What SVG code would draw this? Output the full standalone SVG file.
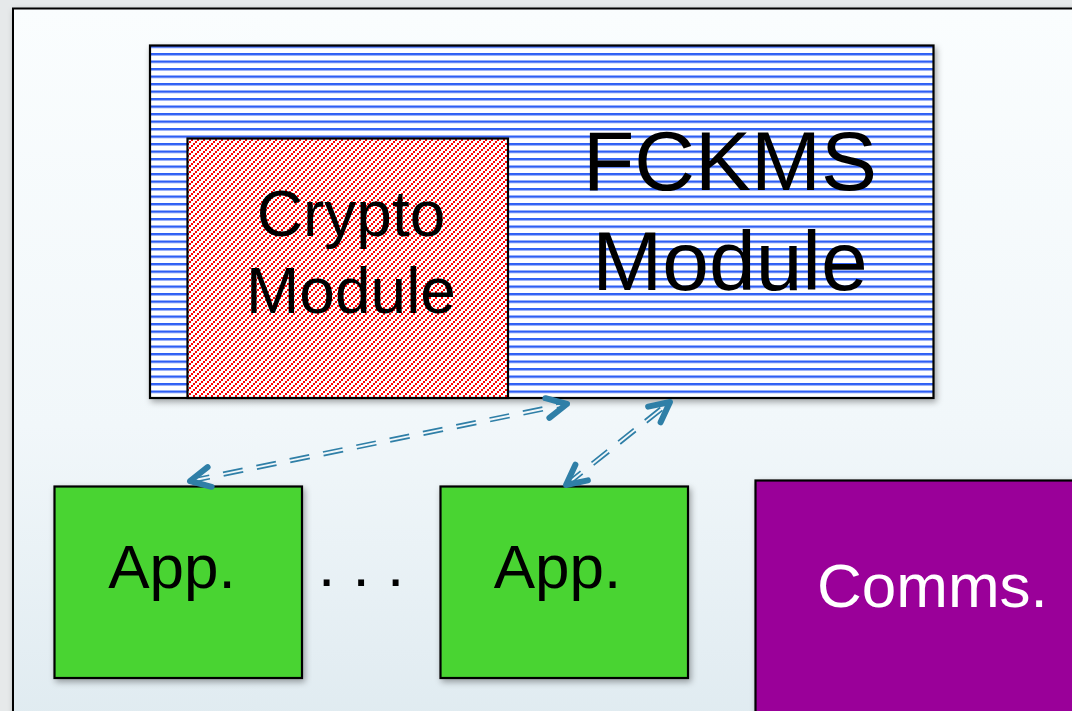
<svg xmlns="http://www.w3.org/2000/svg" width="1072" height="711" viewBox="0 0 1072 711">
  <defs>
    <linearGradient id="bg" x1="0" y1="0" x2="0" y2="1">
      <stop offset="0" stop-color="#fafdfe"/>
      <stop offset="0.55" stop-color="#f1f7fa"/>
      <stop offset="1" stop-color="#dde9ef"/>
    </linearGradient>
    <pattern id="hlines" patternUnits="userSpaceOnUse" x="0" y="53" width="10" height="7.5">
      <rect x="0" y="0" width="10" height="7.5" fill="#ffffff"/>
      <rect x="0" y="0" width="10" height="2.4" fill="#2f5ff4"/>
    </pattern>
    <pattern id="redhatch" patternUnits="userSpaceOnUse" x="187" y="139" width="6" height="6">
      <rect x="0" y="0" width="6" height="6" fill="#ffffff"/>
      <rect x="0" y="4" width="2" height="2" fill="#ff0000"/>
      <rect x="2" y="2" width="2" height="2" fill="#ff0000"/>
      <rect x="4" y="0" width="2" height="2" fill="#ff0000"/>
    </pattern>
    <filter id="shadow" x="-10%" y="-10%" width="130%" height="130%">
      <feDropShadow dx="2" dy="3" stdDeviation="3" flood-color="#000000" flood-opacity="0.35"/>
    </filter>
    <marker id="chev" viewBox="-26 -16 32 32" refX="0" refY="0" markerWidth="32" markerHeight="32" markerUnits="userSpaceOnUse" orient="auto-start-reverse">
      <path d="M -20 -10 L 0 0 L -20 10" fill="none" stroke="#2f7fa7" stroke-width="6" stroke-linecap="round" stroke-linejoin="round"/>
    </marker>
    <style>
      .lbl { font-family: "Liberation Sans", Arial, sans-serif; fill: #000000; }
      .box { stroke: #000000; stroke-width: 2.2; }
      .dbl { fill: none; stroke: #2f7fa7; stroke-width: 1.7; stroke-dasharray: 20 14; }
    </style>
  </defs>

  <!-- backdrop and outer frame -->
  <rect x="0" y="0" width="1072" height="711" fill="#e6e9ea"/>
  <rect x="13" y="8.5" width="1100" height="760" fill="url(#bg)" stroke="#000000" stroke-width="2" filter="url(#shadow)"/>

  <!-- FCKMS module -->
  <g id="fckms">
    <rect class="box" x="150" y="45.5" width="783.5" height="352.5" fill="url(#hlines)" filter="url(#shadow)"/>
    <text class="lbl" x="730" y="190" font-size="84" text-anchor="middle">FCKMS</text>
    <text class="lbl" x="730" y="290" font-size="84" text-anchor="middle">Module</text>
  </g>

  <!-- crypto module inside FCKMS -->
  <g id="crypto">
    <rect class="box" x="187.5" y="138.5" width="320.5" height="259.5" fill="url(#redhatch)"/>
    <text class="lbl" x="351" y="236" font-size="64" text-anchor="middle">Crypto</text>
    <text class="lbl" x="351" y="313" font-size="64" text-anchor="middle">Module</text>
  </g>

  <!-- applications -->
  <g id="app1">
    <rect class="box" x="54.5" y="486.5" width="247.5" height="191.5" fill="#4ad433" filter="url(#shadow)"/>
    <text class="lbl" x="172" y="588" font-size="62" text-anchor="middle">App.</text>
  </g>
  <g id="ellipsis">
    <text class="lbl" x="318" y="586" font-size="62">. . .</text>
  </g>
  <g id="app2">
    <rect class="box" x="440.5" y="486.5" width="247.5" height="191.5" fill="#4ad433" filter="url(#shadow)"/>
    <text class="lbl" x="557.5" y="588" font-size="62" text-anchor="middle">App.</text>
  </g>

  <!-- communications -->
  <g id="comms">
    <rect class="box" x="755.5" y="480.5" width="340" height="260" fill="#9a0099" filter="url(#shadow)"/>
    <text class="lbl" x="817" y="607" font-size="62" style="fill:#ffffff">Comms.</text>
  </g>

  <!-- connectors: double-line dashed, arrowheads both ends -->
  <g id="connectors">
    <!-- app1 <-> FCKMS -->
    <path class="dbl" d="M 190.36 482.76 L 567.36 405.76"/>
    <path class="dbl" d="M 189.64 479.24 L 566.64 402.24"/>
    <path d="M 190 481 L 567 404" fill="none" stroke="none" marker-start="url(#chev)" marker-end="url(#chev)"/>
    <!-- app2 <-> FCKMS -->
    <path class="dbl" d="M 567.1 486.4 L 671.1 403.4"/>
    <path class="dbl" d="M 564.9 483.6 L 668.9 400.6"/>
    <path d="M 566 485 L 670 402" fill="none" stroke="none" marker-start="url(#chev)" marker-end="url(#chev)"/>
  </g>
</svg>
